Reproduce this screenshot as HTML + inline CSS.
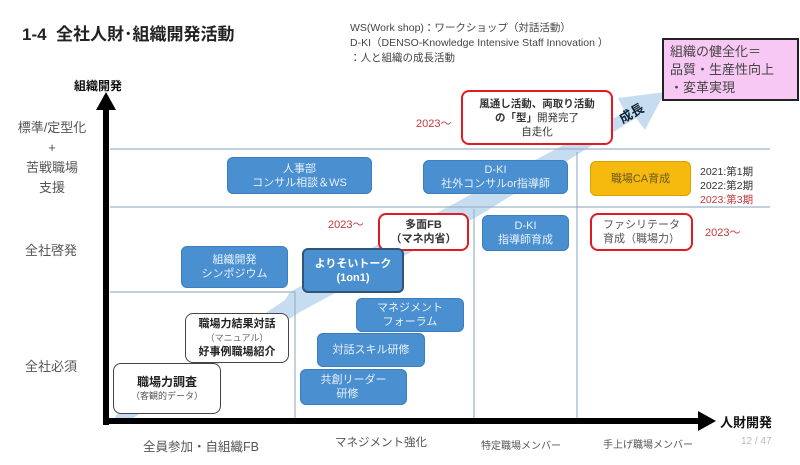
<!DOCTYPE html>
<html><head><meta charset="utf-8"><style>
body{margin:0;width:800px;height:465px;background:#fff;position:relative;overflow:hidden;font-family:"Liberation Sans","Noto Sans CJK JP",sans-serif}
div{position:absolute;box-sizing:border-box}
.b{background:#4a8fd0;color:#e8f1fb;border-radius:6px;text-align:center;font-size:11px;line-height:14px;display:flex;flex-direction:column;justify-content:center;border:1px solid #3b7dbd}
.r{background:#fff;border:2px solid #e01c22;border-radius:8px;text-align:center;font-size:11px;line-height:14px;display:flex;flex-direction:column;justify-content:center;color:#333}
.w{background:#fff;border:1.5px solid #444;border-radius:8px;text-align:center;font-size:11px;line-height:14px;display:flex;flex-direction:column;justify-content:center;color:#222}
.g{color:#555;font-size:13px;text-align:center}
.y{color:#c0393b;font-size:11px}
</style></head><body>
<svg width="800" height="465" style="position:absolute;left:0;top:0">
<polygon points="112,422 120,410 285,300 290,292 470,195 625,112 618,98 665,92 645,130 636,118 480,215 300,312 130,420" fill="#c6ddf1"/>
<line x1="110" y1="149" x2="770" y2="149" stroke="#9bb3c8" stroke-width="1.2"/>
<line x1="110" y1="207" x2="770" y2="207" stroke="#9bb3c8" stroke-width="1.2"/>
<polyline points="110,292 295,292 295,420" fill="none" stroke="#9bb3c8" stroke-width="1.2"/>
<line x1="474" y1="209" x2="474" y2="420" stroke="#9bb3c8" stroke-width="1.2"/>
<line x1="577" y1="152" x2="577" y2="420" stroke="#9bb3c8" stroke-width="1.2"/>
<line x1="106" y1="425" x2="106" y2="106" stroke="#000" stroke-width="6"/>
<polygon points="96,110 106,92 116,110" fill="#000"/>
<line x1="103" y1="421" x2="700" y2="421" stroke="#000" stroke-width="6"/>
<polygon points="698,411 716,421 698,431" fill="#000"/>
<circle cx="380" cy="392" r="3.5" fill="#e8304a"/>
</svg>
<div style="left:22px;top:20px;font-size:17px;font-weight:bold;color:#222">1-4&nbsp; 全社人財･組織開発活動</div>
<div style="left:350px;top:21px;font-size:10.5px;line-height:15px;color:#444">WS(Work shop)：ワークショップ（対話活動）<br>D-KI（DENSO-Knowledge Intensive Staff Innovation ）<br>：人と組織の成長活動</div>
<div style="left:662px;top:38px;width:137px;height:63px;background:#f8c8f4;border:2px solid #222;font-size:13px;line-height:18px;color:#444;padding:3px 6px">組織の健全化＝<br>品質・生産性向上<br>・変革実現</div>
<div style="left:74px;top:77px;font-size:12px;font-weight:bold;color:#111">組織開発</div>
<div class="g" style="left:2px;top:118px;width:100px;line-height:20px">標準/定型化<br>+<br>苦戦職場<br>支援</div>
<div class="g" style="left:25px;top:240px">全社啓発</div>
<div class="g" style="left:25px;top:356px">全社必須</div>
<div style="left:720px;top:412px;font-size:13px;font-weight:bold;color:#111">人財開発</div>
<div class="g" style="left:143px;top:436px;font-size:12.5px">全員参加・自組織FB</div>
<div class="g" style="left:335px;top:434px;font-size:11.5px">マネジメント強化</div>
<div class="g" style="left:481px;top:437px;font-size:10px">特定職場メンバー</div>
<div class="g" style="left:603px;top:436px;font-size:10px">手上げ職場メンバー</div>
<div style="left:741px;top:436px;font-size:10px;color:#bbb">12 / 47</div>
<div class="r" style="left:461px;top:90px;width:152px;height:55px;font-size:10.5px"><b>風通し活動、両取り活動</b><span><b>の「型」</b>開発完了</span><span>自走化</span></div>
<div class="y" style="left:416px;top:115px">2023～</div>
<div style="left:618px;top:103px;font-size:13px;font-weight:bold;color:#123;transform:rotate(-30deg)">成長</div>
<div class="b" style="left:227px;top:157px;width:145px;height:37px">人事部<span>コンサル相談＆WS</span></div>
<div class="b" style="left:423px;top:160px;width:145px;height:34px">D-KI<span>社外コンサルor指導師</span></div>
<div class="b" style="left:590px;top:161px;width:101px;height:35px;background:#f6b90d;border-color:#d9a000;color:#6a5a20">職場CA育成</div>
<div style="left:700px;top:165px;font-size:10.5px;line-height:14px;color:#333">2021:第1期<br>2022:第2期<br><span style="color:#c0393b">2023:第3期</span></div>
<div class="y" style="left:328px;top:216px">2023～</div>
<div class="r" style="left:378px;top:213px;width:91px;height:38px;font-weight:bold">多面FB<span>（マネ内省）</span></div>
<div class="b" style="left:482px;top:215px;width:87px;height:36px">D-KI<span>指導師育成</span></div>
<div class="r" style="left:590px;top:213px;width:103px;height:38px;color:#555">ファシリテータ<span>育成（職場力）</span></div>
<div class="y" style="left:705px;top:224px">2023～</div>
<div class="b" style="left:181px;top:246px;width:107px;height:42px">組織開発<span>シンポジウム</span></div>
<div class="b" style="left:302px;top:248px;width:102px;height:45px;border:2px solid #2f5478;font-weight:bold;color:#fff">よりそいトーク<span>(1on1)</span></div>
<div class="b" style="left:356px;top:298px;width:108px;height:34px">マネジメント<span>フォーラム</span></div>
<div class="b" style="left:317px;top:333px;width:108px;height:34px">対話スキル研修</div>
<div class="b" style="left:300px;top:369px;width:107px;height:36px">共創リーダー<span>研修&nbsp;&nbsp;&nbsp;&nbsp;</span></div>
<div class="w" style="left:185px;top:313px;width:104px;height:50px"><b>職場力結果対話</b><span style="font-size:9px;color:#666">（マニュアル）</span><b>好事例職場紹介</b></div>
<div class="w" style="left:113px;top:363px;width:108px;height:51px"><b style="font-size:12px">職場力調査</b><span style="font-size:9px;color:#555">（客観的データ）</span></div>
</body></html>
